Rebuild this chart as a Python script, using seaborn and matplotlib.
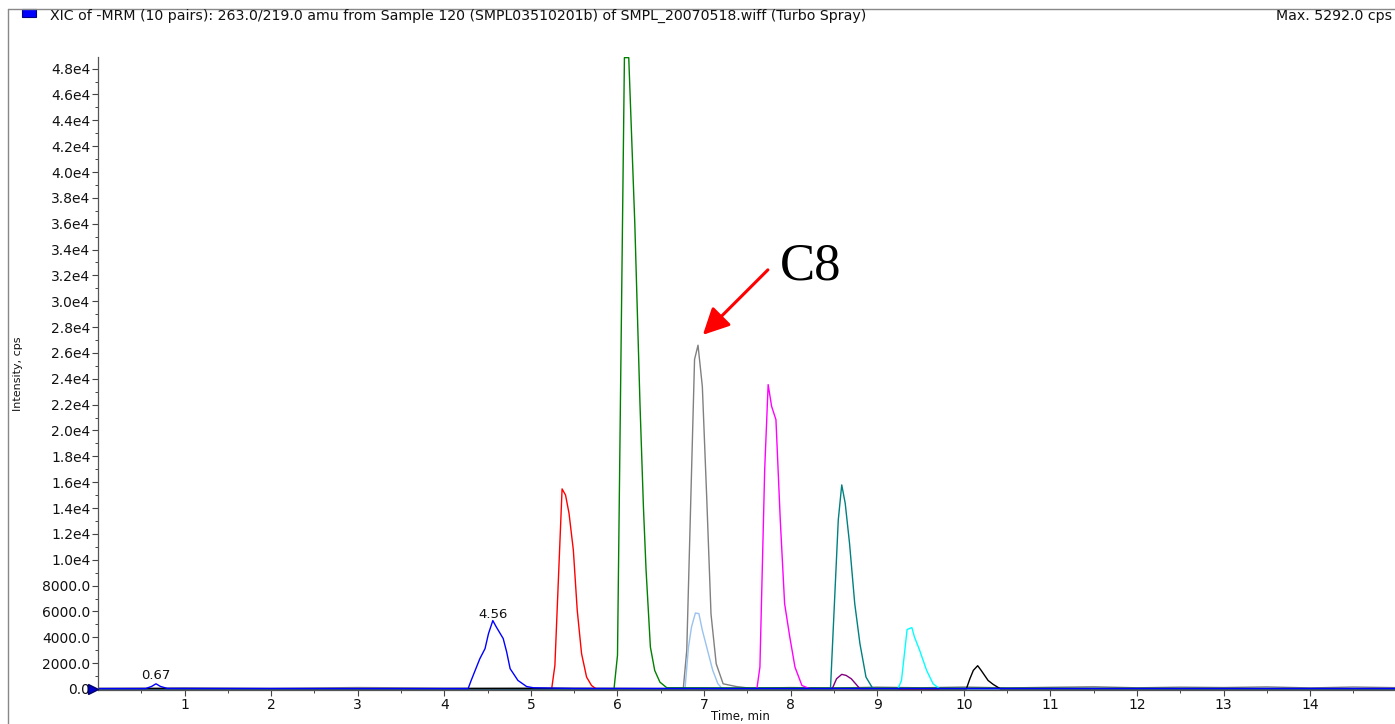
import numpy as np
import pandas as pd
import matplotlib
matplotlib.use("Agg")
import matplotlib.pyplot as plt
from matplotlib.lines import Line2D
from matplotlib.patches import Rectangle
import seaborn as sns

# ---- XIC traces (time in min, intensity in cps) ----
blue_t = [0.0, 0.55, 0.62, 0.67, 0.72, 0.80, 4.275, 4.31, 4.41, 4.47, 4.51, 4.56,
          4.60, 4.68, 4.72, 4.76, 4.85, 4.95, 5.03, 5.5, 15.0]
blue_i = [30, 30, 200, 400, 200, 40, 30, 660, 2340, 3120, 4280, 5292,
          4800, 3900, 2860, 1570, 660, 190, 90, 40, 40]

red_t = [0.0, 5.24, 5.277, 5.36, 5.40, 5.44, 5.49, 5.535, 5.585, 5.643, 5.70, 5.75, 15.0]
red_i = [20, 20, 1820, 15480, 15000, 13600, 10750, 6090, 2730, 920, 270, 20, 20]

green_t = [0.0, 5.96, 6.00, 6.08, 6.13, 6.20, 6.26, 6.30, 6.33, 6.38, 6.43, 6.49, 6.57, 15.0]
green_i = [20, 20, 2600, 48850, 48850, 36000, 22000, 14000, 9200, 3240, 1430, 530, 90, 20]

gray_t = [0.0, 1.0, 2.0, 3.0, 4.0, 5.0, 6.0, 6.76, 6.80, 6.89, 6.93, 6.98, 7.03, 7.08,
          7.14, 7.22, 7.37, 7.53, 8.0, 8.5, 9.0, 9.5, 10.0, 10.5, 11.0, 11.5, 12.0,
          12.5, 13.0, 13.5, 14.0, 14.5, 15.0]
gray_i = [60, 90, 50, 110, 70, 90, 60, 30, 3000, 25500, 26600, 23400, 14900, 5800,
          1950, 400, 190, 60, 110, 70, 140, 90, 150, 80, 130, 170, 90, 140, 110, 160,
          80, 150, 100]

lightblue_t = [0.0, 6.78, 6.82, 6.855, 6.90, 6.94, 6.98, 7.04, 7.10, 7.16, 7.21, 15.0]
lightblue_i = [20, 20, 3240, 4800, 5880, 5830, 4540, 2990, 1440, 400, 20, 20]

magenta_t = [0.0, 7.61, 7.645, 7.70, 7.74, 7.78, 7.83, 7.88, 7.93, 7.99, 8.05, 8.13, 8.22, 15.0]
magenta_i = [20, 20, 1700, 16960, 23550, 21870, 20840, 13080, 6610, 4020, 1690, 270, 20, 20]

teal_t = [0.0, 8.46, 8.55, 8.59, 8.63, 8.68, 8.74, 8.80, 8.87, 8.95, 15.0]
teal_i = [20, 20, 13080, 15790, 14370, 11270, 6610, 3510, 920, 20, 20]

purple_t = [0.0, 8.48, 8.53, 8.59, 8.64, 8.70, 8.80, 15.0]
purple_i = [20, 20, 790, 1130, 1050, 790, 20, 20]

cyan_t = [0.0, 9.24, 9.28, 9.345, 9.40, 9.43, 9.49, 9.57, 9.645, 9.72, 15.0]
cyan_i = [20, 20, 660, 4600, 4750, 4020, 2990, 1440, 400, 20, 20]

black_t = [0.0, 10.03, 10.07, 10.11, 10.16, 10.20, 10.28, 10.34, 10.42, 15.0]
black_i = [20, 20, 790, 1440, 1800, 1440, 660, 350, 20, 20]

# drawing order: blue last so its baseline sits on top
traces = [
    ("gray", gray_t, gray_i, "#808080"),
    ("lightblue", lightblue_t, lightblue_i, "#99C2EE"),
    ("red", red_t, red_i, "#FF0000"),
    ("green", green_t, green_i, "#008000"),
    ("magenta", magenta_t, magenta_i, "#FF00FF"),
    ("teal", teal_t, teal_i, "#008080"),
    ("purple", purple_t, purple_i, "#800080"),
    ("cyan", cyan_t, cyan_i, "#00FFFF"),
    ("black", black_t, black_i, "#000000"),
    ("blue", blue_t, blue_i, "#0000FF"),
]

y_ticks = list(range(0, 48001, 2000))
y_tick_labels = [f"{v:.1f}" if v < 10000 else f"{v/1e4:.1f}e4" for v in y_ticks]
x_ticks = list(range(1, 15))

frames = []
for name, t, i, _ in traces:
    frames.append(pd.DataFrame({"time": t, "intensity": i, "trace": name}))
df = pd.concat(frames, ignore_index=True)
palette = {name: col for name, _, _, col in traces}

sns.set_theme(style="white")
plt.rcParams["font.family"] = ["DejaVu Sans"]

W, H = 1395, 724
fig = plt.figure(figsize=(W / 100, H / 100), dpi=100)
ax = fig.add_axes([98 / W, (H - 690) / H, 1 - 98 / W, (690 - 57) / H])

sns.lineplot(data=df, x="time", y="intensity", hue="trace", palette=palette,
             hue_order=[n for n, _, _, _ in traces], estimator=None, sort=False,
             linewidth=1.0, legend=False, ax=ax)

ax.set_xlim(0, 14.98)
ax.set_ylim(-80, 48900)

ax.set_yticks(y_ticks)
ax.set_yticklabels(y_tick_labels)
ax.set_yticks(np.arange(1000, 48000, 2000), minor=True)
ax.set_xticks(x_ticks)
ax.set_xticklabels([str(v) for v in x_ticks])
ax.set_xticks(np.arange(0.5, 15, 1.0), minor=True)

ax.tick_params(axis="both", which="major", direction="out", length=4, width=0.8,
               color="#444444", labelsize=10, labelcolor="#111111", pad=1.5,
               bottom=True, left=True)
ax.tick_params(axis="both", which="minor", direction="out", length=2.5, width=0.7,
               color="#444444", bottom=True, left=True)

for side in ("top", "right"):
    ax.spines[side].set_visible(False)
for side in ("left", "bottom"):
    ax.spines[side].set_color("#555555")
    ax.spines[side].set_linewidth(0.9)

ax.set_xlabel("Time, min", fontsize=8.5, color="#111111")
ax.xaxis.set_label_coords(0.495, -0.032)
ax.set_ylabel("Intensity, cps", fontsize=8, color="#111111")
ax.yaxis.set_label_coords(-0.058, 0.5)

# peak apex labels on the blue trace
for t_lab, i_lab, dy in [(blue_t[3], blue_i[3], 1.5), (blue_t[11], blue_i[11], 0)]:
    ax.annotate(f"{t_lab:.2f}", xy=(t_lab, i_lab), xytext=(0, dy),
                textcoords="offset points", ha="center", va="bottom",
                fontsize=9.5, color="#111111")

# zero marker on the intensity axis
ax.plot([-0.06], [0], marker=">", markersize=7, color="#0000CC",
        markeredgecolor="#000066", clip_on=False, zorder=5)

# C8 callout
ax.annotate("", xy=(6.986, 27400), xytext=(7.737, 32430),
            arrowprops=dict(arrowstyle="-|>,head_length=0.8,head_width=0.4",
                            color="#FF0000", lw=2.2, mutation_scale=20,
                            shrinkA=0, shrinkB=0))
ax.text(7.875, 31660, "C8", fontsize=38, family="Liberation Serif",
        color="black", ha="left", va="baseline")

# header line, frame and trace tag
fig.add_artist(Line2D([8 / W, 1.0], [1 - 9 / H, 1 - 9 / H], color="#888888", lw=1.0))
fig.add_artist(Line2D([8 / W, 8 / W], [0, 1 - 9 / H], color="#888888", lw=1.0))
fig.add_artist(Rectangle((22 / W, 1 - 17 / H), 14 / W, 8 / H, facecolor="#0000FF",
                         edgecolor="#000080", lw=0.8))
fig.text(50 / W, 1 - 16 / H,
         "XIC of -MRM (10 pairs): 263.0/219.0 amu from Sample 120 (SMPL03510201b) "
         "of SMPL_20070518.wiff (Turbo Spray)",
         fontsize=10.2, color="#111111", ha="left", va="center")
fig.text(1392 / W, 1 - 16 / H, f"Max. {max(blue_i):.1f} cps", fontsize=10.2,
         color="#111111", ha="right", va="center")

fig.savefig("out.png", dpi=100)
